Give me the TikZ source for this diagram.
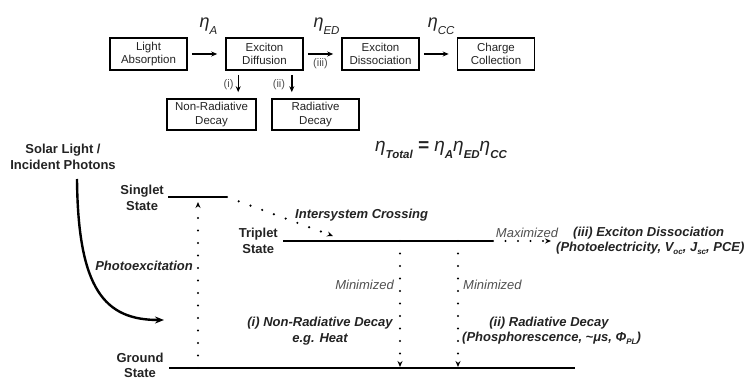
\documentclass[tikz,border=0pt]{standalone}
\usepackage{fontspec}
\setmainfont{Liberation Sans}
\usetikzlibrary{arrows.meta,calc}
\definecolor{txt}{RGB}{35,35,35}
\definecolor{gtxt}{RGB}{80,80,80}
\newcommand\lowsub[2][0.38em]{\raisebox{-#1}{#2}}
\newcommand\bsub[1]{\lowsub{\fontsize{11.5}{11.5}\selectfont\bfseries #1}}
\begin{document}
\begin{tikzpicture}[x=1pt,y=-1pt,
  box/.style={draw, line width=1.6pt, minimum width=77pt, minimum height=32pt, inner sep=0pt, align=center, text=txt, font=\fontsize{11.5}{13.5}\selectfont},
  flow/.style={line width=1.4pt, -{Stealth[length=6pt,width=5pt]}},
  small/.style={text=gtxt, font=\fontsize{11}{13}\selectfont, inner sep=1pt},
  eta/.style={text=txt, inner sep=0pt, font=\fontsize{18}{20}\selectfont\itshape},
  lvl/.style={line width=2pt},
  dotarr/.style={line width=2.4pt, dash pattern=on 0pt off 12.5pt, line cap=round, -{Stealth[length=6pt,width=5pt]}},
  lvlab/.style={text=txt, align=center, inner sep=0pt, font=\fontsize{13}{16}\selectfont\bfseries},
  bi/.style={text=txt, inner sep=0pt, font=\fontsize{13}{16}\selectfont\bfseries\itshape},
  gi/.style={text=gtxt, inner sep=0pt, font=\fontsize{13}{16}\selectfont\itshape},
  curv/.style={line width=2.4pt, -{Stealth[length=9pt,width=7pt]}}
]
\clip (0,0) rectangle (747,379);
% ---- top flow chart ----
\node[box] (la) at (148.5,54) {Light\\Absorption};
\node[box] (ed) at (264.5,54) {Exciton\\Diffusion};
\node[box] (dis) at (380.5,54) {Exciton\\Dissociation};
\node[box] (cc) at (496,54) {Charge\\Collection};
\node[box, minimum width=89pt, minimum height=31pt] (nr) at (211.5,114.5) {Non-Radiative\\Decay};
\node[box, minimum width=87pt, minimum height=31pt] (rd) at (315.5,114.5) {Radiative\\Decay};

\draw[flow, shorten <=4pt, shorten >=8pt] (la) -- coordinate[midway] (m1) (ed);
\draw[flow, shorten <=4pt, shorten >=8pt] (ed) -- coordinate[midway] (m2) (dis);
\draw[flow, shorten <=4pt, shorten >=8pt] (dis) -- coordinate[midway] (m3) (cc);
\node[eta, anchor=base] (e1) at ($(m1)+(2,-26)$) {η\lowsub{\fontsize{11.5}{11.5}\selectfont A}};
\node[eta, anchor=base] (e2) at ($(m2)+(4,-26)$) {η\lowsub{\fontsize{11.5}{11.5}\selectfont ED}};
\node[eta, anchor=base] (e3) at ($(m3)+(3,-26)$) {η\lowsub{\fontsize{11.5}{11.5}\selectfont CC}};
\node[small] (l3) at ($(m2)+(-2,10)$) {(iii)};

\draw[flow, shorten <=4pt, shorten >=6pt] ([xshift=13pt]ed.south west) -- ([xshift=13pt]ed.south west |- nr.north) node[midway, small, left=3pt] (l1) {(i)};
\draw[flow, shorten <=4pt, shorten >=6pt] ([xshift=-12pt]ed.south east) -- ([xshift=-12pt]ed.south east |- rd.north) node[midway, small, left=5pt] (l2) {(ii)};

\node[text=txt, inner sep=0pt, font=\fontsize{19}{21}\selectfont\itshape] (tot) at (441,150)
  {η\bsub{Total} \textbf{=} η\bsub{A}η\bsub{ED}η\bsub{CC}};

% ---- energy diagram ----
\node[lvlab] (sol) at (63,157) {Solar Light /\\Incident Photons};
\coordinate (cs) at (77,179);
\coordinate (ce) at (164,320);
\draw[curv] (cs) .. controls (78,290) and (105,320) .. (ce);

\coordinate (sL) at (168,197); \coordinate (sR) at (227,197);
\coordinate (tL) at (283,241); \coordinate (tR) at (493,241);
\coordinate (gL) at (169,368); \coordinate (gR) at (575,368);
\draw[lvl] (sL) -- (sR);
\draw[lvl] (tL) -- (tR);
\draw[lvl] (gL) -- (gR);
\node[lvlab, anchor=east] (sgl) at (164,198) {Singlet\\State};
\node[lvlab, anchor=east] (trp) at (278,241) {Triplet\\State};
\node[lvlab, anchor=north, font=\fontsize{13}{14.5}\selectfont\bfseries] (gnd) at (140,353) {Ground\\State};

\coordinate (p0) at (198,368); \coordinate (p1) at (198,202);
\draw[dotarr] (p0) -- (p1);
\node[bi, anchor=east] (phex) at (193,266) {Photoexcitation};

\coordinate (iscE) at (333,236);
\draw[dotarr] (sR) -- (iscE);
\node[bi, anchor=west] (isc) at (295,215) {Intersystem Crossing};

\coordinate (mxE) at (551,241);
\draw[dotarr] (tR) -- (mxE);
\node[gi] (mx) at (527,233) {Maximized};
\node[bi, anchor=west] (ex1) at (573,233) {(iii) Exciton Dissociation};
\node[bi, anchor=west] (ex2) at (556,248) {(Photoelectricity, V\lowsub[0.25em]{\fontsize{8}{8}\selectfont oc}, J\lowsub[0.25em]{\fontsize{8}{8}\selectfont sc}, PCE)};

\coordinate (d1a) at (400,241); \coordinate (d1b) at (400,367);
\coordinate (d2a) at (458,241); \coordinate (d2b) at (458,367);
\draw[dotarr] (d1a) -- (d1b);
\draw[dotarr] (d2a) -- (d2b);
\node[gi, anchor=east] (mn1) at (394,285) {Minimized};
\node[gi, anchor=west] (mn2) at (463,285) {Minimized};
\node[bi, align=center] (nrd) at (320,331) {(i) Non-Radiative Decay\\e.g. Heat};
\node[bi] (rd1) at (549,323) {(ii) Radiative Decay};
\node[bi, anchor=west] (rd2) at (462,338) {(Phosphorescence, \textasciitilde μs, Φ\lowsub[0.25em]{\fontsize{8}{8}\selectfont PL})};
\end{tikzpicture}
\end{document}
